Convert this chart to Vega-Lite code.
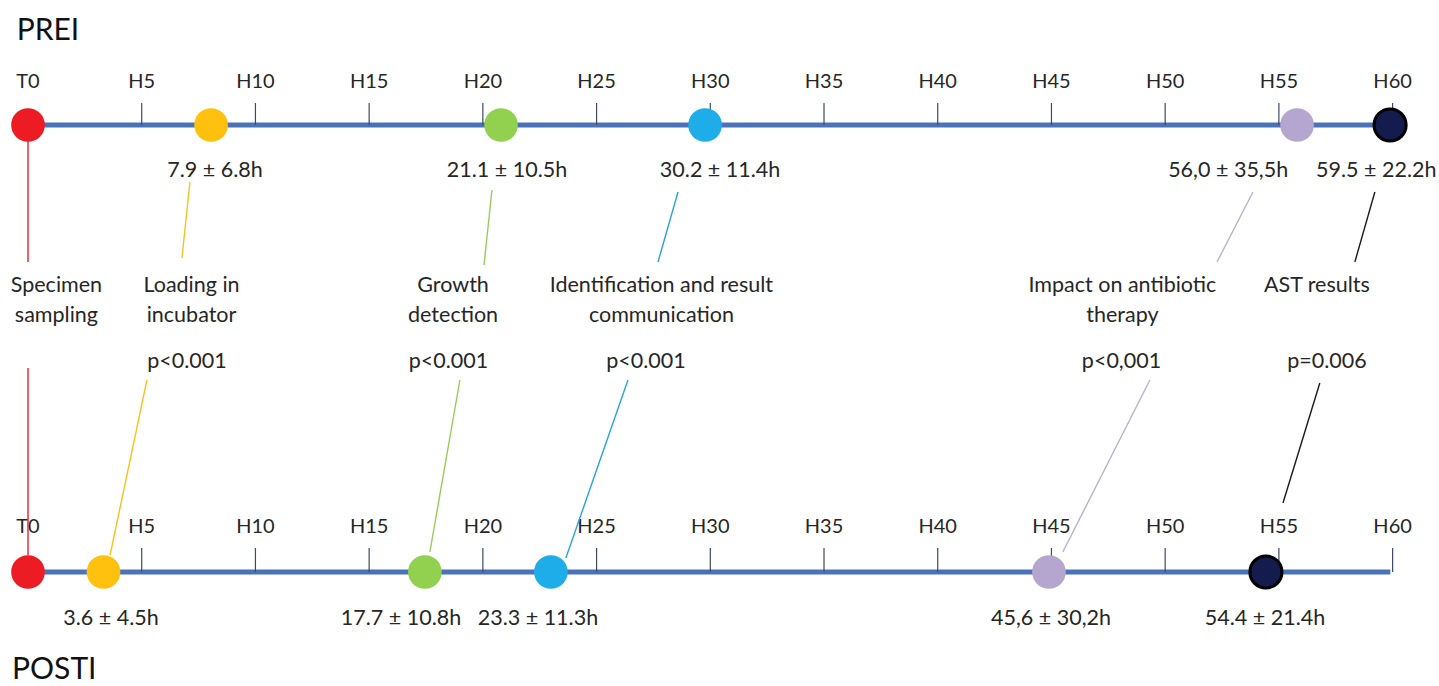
{
  "$schema": "https://vega.github.io/schema/vega-lite/v6.json",
  "width": 1439,
  "height": 686,
  "autosize": "none",
  "padding": 0,
  "background": "white",
  "config": {
    "view": {"stroke": null},
    "text": {"font": "Lato", "fontSize": 21.5, "color": "#262626", "baseline": "alphabetic"}
  },
  "datasets": {
    "lines": [
      {"t": "PREI", "y": 125, "from": 0, "to": 60},
      {"t": "POSTI", "y": 572, "from": 0, "to": 59.9}
    ],
    "ticks": [
      {"t": "PREI", "h": 0, "label": "T0", "ly": 88, "y1": 103, "y2": 125},
      {"t": "PREI", "h": 5, "label": "H5", "ly": 88, "y1": 103, "y2": 125},
      {"t": "PREI", "h": 10, "label": "H10", "ly": 88, "y1": 103, "y2": 125},
      {"t": "PREI", "h": 15, "label": "H15", "ly": 88, "y1": 103, "y2": 125},
      {"t": "PREI", "h": 20, "label": "H20", "ly": 88, "y1": 103, "y2": 125},
      {"t": "PREI", "h": 25, "label": "H25", "ly": 88, "y1": 103, "y2": 125},
      {"t": "PREI", "h": 30, "label": "H30", "ly": 88, "y1": 103, "y2": 125},
      {"t": "PREI", "h": 35, "label": "H35", "ly": 88, "y1": 103, "y2": 125},
      {"t": "PREI", "h": 40, "label": "H40", "ly": 88, "y1": 103, "y2": 125},
      {"t": "PREI", "h": 45, "label": "H45", "ly": 88, "y1": 103, "y2": 125},
      {"t": "PREI", "h": 50, "label": "H50", "ly": 88, "y1": 103, "y2": 125},
      {"t": "PREI", "h": 55, "label": "H55", "ly": 88, "y1": 103, "y2": 125},
      {"t": "PREI", "h": 60, "label": "H60", "ly": 88, "y1": 103, "y2": 125},
      {"t": "POSTI", "h": 0, "label": "T0", "ly": 533, "y1": 548, "y2": 572},
      {"t": "POSTI", "h": 5, "label": "H5", "ly": 533, "y1": 548, "y2": 572},
      {"t": "POSTI", "h": 10, "label": "H10", "ly": 533, "y1": 548, "y2": 572},
      {"t": "POSTI", "h": 15, "label": "H15", "ly": 533, "y1": 548, "y2": 572},
      {"t": "POSTI", "h": 20, "label": "H20", "ly": 533, "y1": 548, "y2": 572},
      {"t": "POSTI", "h": 25, "label": "H25", "ly": 533, "y1": 548, "y2": 572},
      {"t": "POSTI", "h": 30, "label": "H30", "ly": 533, "y1": 548, "y2": 572},
      {"t": "POSTI", "h": 35, "label": "H35", "ly": 533, "y1": 548, "y2": 572},
      {"t": "POSTI", "h": 40, "label": "H40", "ly": 533, "y1": 548, "y2": 572},
      {"t": "POSTI", "h": 45, "label": "H45", "ly": 533, "y1": 548, "y2": 572},
      {"t": "POSTI", "h": 50, "label": "H50", "ly": 533, "y1": 548, "y2": 572},
      {"t": "POSTI", "h": 55, "label": "H55", "ly": 533, "y1": 548, "y2": 572},
      {"t": "POSTI", "h": 60, "label": "H60", "ly": 533, "y1": 548, "y2": 572}
    ],
    "connectors": [
      {"ev": "sampling", "h1": 0, "y1": 125, "h2": 0, "y2": 262},
      {"ev": "loading", "h1": 7.12, "y1": 182, "h2": 6.77, "y2": 258},
      {"ev": "growth", "h1": 20.4, "y1": 190, "h2": 20.05, "y2": 265},
      {"ev": "ident", "h1": 28.58, "y1": 192, "h2": 27.7, "y2": 262},
      {"ev": "impact", "h1": 53.86, "y1": 192, "h2": 52.28, "y2": 262},
      {"ev": "ast", "h1": 59.22, "y1": 192, "h2": 58.34, "y2": 262},
      {"ev": "sampling", "h1": 0, "y1": 368, "h2": 0, "y2": 555},
      {"ev": "loading", "h1": 5.23, "y1": 380, "h2": 3.61, "y2": 555},
      {"ev": "growth", "h1": 18.99, "y1": 380, "h2": 17.67, "y2": 552},
      {"ev": "ident", "h1": 26.38, "y1": 380, "h2": 23.65, "y2": 558},
      {"ev": "impact", "h1": 49.33, "y1": 380, "h2": 45.5, "y2": 552},
      {"ev": "ast", "h1": 56.8, "y1": 383, "h2": 55.18, "y2": 503}
    ],
    "events": [
      {"t": "PREI", "ev": "sampling", "h": 0, "y": 125},
      {"t": "PREI", "ev": "loading", "h": 8.05, "y": 125},
      {"t": "PREI", "ev": "growth", "h": 20.8, "y": 125},
      {"t": "PREI", "ev": "ident", "h": 29.77, "y": 125},
      {"t": "PREI", "ev": "impact", "h": 55.8, "y": 125},
      {"t": "PREI", "ev": "ast", "h": 59.89, "y": 125},
      {"t": "POSTI", "ev": "sampling", "h": 0, "y": 572},
      {"t": "POSTI", "ev": "loading", "h": 3.32, "y": 572},
      {"t": "POSTI", "ev": "growth", "h": 17.45, "y": 572},
      {"t": "POSTI", "ev": "ident", "h": 22.99, "y": 572},
      {"t": "POSTI", "ev": "impact", "h": 44.89, "y": 572},
      {"t": "POSTI", "ev": "ast", "h": 54.43, "y": 572}
    ],
    "values": [
      {"t": "PREI", "ev": "loading", "h": 8.22, "y": 177, "text": "7.9 ± 6.8h"},
      {"t": "PREI", "ev": "growth", "h": 21.06, "y": 177, "text": "21.1 ± 10.5h"},
      {"t": "PREI", "ev": "ident", "h": 30.43, "y": 177, "text": "30.2 ± 11.4h"},
      {"t": "PREI", "ev": "impact", "h": 52.77, "y": 177, "text": "56,0 ± 35,5h"},
      {"t": "PREI", "ev": "ast", "h": 59.28, "y": 177, "text": "59.5 ± 22.2h"},
      {"t": "POSTI", "ev": "loading", "h": 3.65, "y": 625, "text": "3.6 ± 4.5h"},
      {"t": "POSTI", "ev": "growth", "h": 16.4, "y": 625, "text": "17.7 ± 10.8h"},
      {"t": "POSTI", "ev": "ident", "h": 22.42, "y": 625, "text": "23.3 ± 11.3h"},
      {"t": "POSTI", "ev": "impact", "h": 44.98, "y": 625, "text": "45,6 ± 30,2h"},
      {"t": "POSTI", "ev": "ast", "h": 54.39, "y": 625, "text": "54.4 ± 21.4h"}
    ],
    "categories": [
      {"ev": "sampling", "h": 1.25, "y": 292, "text": "Specimen"},
      {"ev": "sampling", "h": 1.25, "y": 322, "text": "sampling"},
      {"ev": "loading", "h": 7.19, "y": 292, "text": "Loading in"},
      {"ev": "loading", "h": 7.19, "y": 322, "text": "incubator"},
      {"ev": "growth", "h": 18.69, "y": 292, "text": "Growth"},
      {"ev": "growth", "h": 18.69, "y": 322, "text": "detection"},
      {"ev": "ident", "h": 27.85, "y": 292, "text": "Identification and result"},
      {"ev": "ident", "h": 27.85, "y": 322, "text": "communication"},
      {"ev": "impact", "h": 48.12, "y": 292, "text": "Impact on antibiotic"},
      {"ev": "impact", "h": 48.12, "y": 322, "text": "therapy"},
      {"ev": "ast", "h": 56.67, "y": 292, "text": "AST results"}
    ],
    "pvalues": [
      {"ev": "loading", "h": 6.99, "y": 368, "text": "p<0.001"},
      {"ev": "growth", "h": 18.49, "y": 368, "text": "p<0.001"},
      {"ev": "ident", "h": 27.17, "y": 368, "text": "p<0.001"},
      {"ev": "impact", "h": 48.08, "y": 368, "text": "p<0,001"},
      {"ev": "ast", "h": 57.11, "y": 368, "text": "p=0.006"}
    ],
    "titles": [
      {"t": "PREI", "h": -0.5, "y": 40, "text": "PREI"},
      {"t": "POSTI", "h": -0.7, "y": 679, "text": "POSTI"}
    ]
  },
  "resolve": {"scale": {"color": "independent"}},
  "layer": [
    {
      "data": {"name": "lines"},
      "mark": {"type": "rule", "strokeWidth": 5, "color": "#4a72b8"},
      "encoding": {
        "x": {"field": "from", "type": "quantitative", "scale": {"domain": [-1.231, 62.04], "nice": false, "zero": false}, "axis": null},
        "x2": {"field": "to"},
        "y": {"field": "y", "type": "quantitative", "scale": {"domain": [0, 686], "reverse": true, "nice": false, "zero": false}, "axis": null}
      }
    },
    {
      "data": {"name": "ticks"},
      "transform": [{"filter": "datum.h > 0"}],
      "mark": {"type": "rule", "strokeWidth": 1.2, "color": "#3d4a66"},
      "encoding": {
        "x": {"field": "h", "type": "quantitative", "scale": {"domain": [-1.231, 62.04], "nice": false, "zero": false}, "axis": null},
        "y": {"field": "y1", "type": "quantitative", "scale": {"domain": [0, 686], "reverse": true, "nice": false, "zero": false}, "axis": null},
        "y2": {"field": "y2"}
      }
    },
    {
      "data": {"name": "ticks"},
      "mark": {"type": "text", "align": "center", "fontSize": 20},
      "encoding": {
        "x": {"field": "h", "type": "quantitative", "scale": {"domain": [-1.231, 62.04], "nice": false, "zero": false}, "axis": null},
        "y": {"field": "ly", "type": "quantitative", "scale": {"domain": [0, 686], "reverse": true, "nice": false, "zero": false}, "axis": null},
        "text": {"field": "label"}
      }
    },
    {
      "data": {"name": "connectors"},
      "mark": {"type": "rule", "strokeWidth": 1.4},
      "encoding": {
        "x": {"field": "h1", "type": "quantitative", "scale": {"domain": [-1.231, 62.04], "nice": false, "zero": false}, "axis": null},
        "x2": {"field": "h2"},
        "y": {"field": "y1", "type": "quantitative", "scale": {"domain": [0, 686], "reverse": true, "nice": false, "zero": false}, "axis": null},
        "y2": {"field": "y2"},
        "color": {"field": "ev", "type": "nominal", "legend": null, "scale": {"domain": ["sampling", "loading", "growth", "ident", "impact", "ast"], "range": ["#e31e2a", "#f7c21e", "#98cc5a", "#2aa3d9", "#b9b1cc", "#1a1a1a"]}}
      }
    },
    {
      "data": {"name": "events"},
      "mark": {"type": "point", "shape": "circle", "filled": true, "opacity": 1, "stroke": "#000000"},
      "encoding": {
        "x": {"field": "h", "type": "quantitative", "scale": {"domain": [-1.231, 62.04], "nice": false, "zero": false}, "axis": null},
        "y": {"field": "y", "type": "quantitative", "scale": {"domain": [0, 686], "reverse": true, "nice": false, "zero": false}, "axis": null},
        "fill": {"field": "ev", "type": "nominal", "legend": null, "scale": {"domain": ["sampling", "loading", "growth", "ident", "impact", "ast"], "range": ["#ed1c24", "#ffc10e", "#92d050", "#1eade8", "#b4a6cf", "#141b4d"]}},
        "size": {"condition": {"test": "datum.ev === 'ast'", "value": 1030}, "value": 1134},
        "strokeWidth": {"condition": {"test": "datum.ev === 'ast'", "value": 3}, "value": 0}
      }
    },
    {
      "data": {"name": "values"},
      "mark": {"type": "text", "align": "center"},
      "encoding": {
        "x": {"field": "h", "type": "quantitative", "scale": {"domain": [-1.231, 62.04], "nice": false, "zero": false}, "axis": null},
        "y": {"field": "y", "type": "quantitative", "scale": {"domain": [0, 686], "reverse": true, "nice": false, "zero": false}, "axis": null},
        "text": {"field": "text"}
      }
    },
    {
      "data": {"name": "categories"},
      "mark": {"type": "text", "align": "center"},
      "encoding": {
        "x": {"field": "h", "type": "quantitative", "scale": {"domain": [-1.231, 62.04], "nice": false, "zero": false}, "axis": null},
        "y": {"field": "y", "type": "quantitative", "scale": {"domain": [0, 686], "reverse": true, "nice": false, "zero": false}, "axis": null},
        "text": {"field": "text"}
      }
    },
    {
      "data": {"name": "pvalues"},
      "mark": {"type": "text", "align": "center"},
      "encoding": {
        "x": {"field": "h", "type": "quantitative", "scale": {"domain": [-1.231, 62.04], "nice": false, "zero": false}, "axis": null},
        "y": {"field": "y", "type": "quantitative", "scale": {"domain": [0, 686], "reverse": true, "nice": false, "zero": false}, "axis": null},
        "text": {"field": "text"}
      }
    },
    {
      "data": {"name": "titles"},
      "mark": {"type": "text", "align": "left", "fontSize": 30, "color": "#111111"},
      "encoding": {
        "x": {"field": "h", "type": "quantitative", "scale": {"domain": [-1.231, 62.04], "nice": false, "zero": false}, "axis": null},
        "y": {"field": "y", "type": "quantitative", "scale": {"domain": [0, 686], "reverse": true, "nice": false, "zero": false}, "axis": null},
        "text": {"field": "text"}
      }
    }
  ]
}
